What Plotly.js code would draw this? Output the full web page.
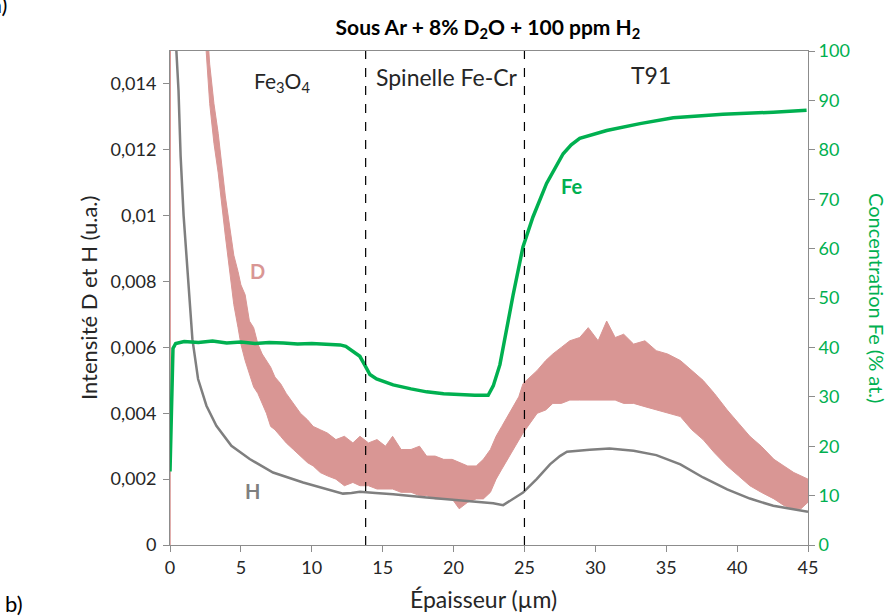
<!DOCTYPE html>
<html><head><meta charset="utf-8">
<script src="https://cdn.plot.ly/plotly-3.0.1.min.js"></script>
<style>html,body{margin:0;padding:0;background:#fff}#chart{width:892px;height:616px}</style>
</head><body><div id="chart"></div>
<script>
// D signal (noisy band): thickness position, upper and lower envelope
const dX =     [0, 0.06, 2.55, 2.8, 3.1, 3.4, 3.9, 4.2, 4.5, 4.8, 5.0, 5.3, 5.6, 5.9, 6.2, 6.5, 6.8, 7.1, 7.4, 7.8, 8.2, 8.7, 9.2, 9.7, 10.1, 10.6, 11.1, 11.7, 12.3, 12.9, 13.4, 14.0, 14.6, 15.2, 15.7, 16.3, 17.0, 17.6, 18.1, 18.7, 19.3, 19.9, 20.4, 21.0, 21.6, 22.1, 22.6, 23.0, 23.4, 23.8, 24.2, 24.6, 24.9, 25.4, 25.9, 26.5, 27.0, 27.6, 28.2, 28.9, 29.5, 30.2, 30.8, 31.4, 32.0, 32.7, 33.5, 34.3, 35.1, 36.0, 36.8, 37.6, 38.4, 39.3, 40.1, 40.9, 41.7, 42.6, 43.3, 44.0, 44.5, 45.0];
const dUpper = [0, 0.03, 0.0162, 0.0146, 0.0134, 0.0125, 0.0106, 0.0097, 0.0088, 0.0083, 0.0079, 0.0076, 0.0068, 0.0066, 0.0061, 0.0058, 0.0056, 0.0054, 0.0051, 0.0049, 0.0046, 0.0043, 0.0040, 0.0038, 0.0036, 0.0035, 0.0034, 0.0032, 0.0033, 0.0031, 0.0033, 0.0031, 0.0032, 0.0030, 0.0033, 0.0029, 0.0029, 0.0030, 0.0027, 0.0027, 0.0026, 0.0026, 0.0025, 0.0024, 0.0024, 0.0026, 0.0029, 0.0033, 0.0036, 0.0039, 0.0042, 0.0045, 0.0049, 0.0051, 0.0053, 0.0056, 0.0058, 0.0060, 0.0062, 0.0063, 0.0066, 0.0062, 0.0068, 0.0063, 0.0064, 0.0061, 0.0062, 0.0059, 0.0058, 0.0056, 0.0053, 0.0050, 0.0046, 0.0041, 0.0037, 0.0033, 0.0030, 0.0026, 0.0024, 0.0022, 0.0021, 0.0020];
const dLower = [0, 0.03, 0.0150, 0.0134, 0.0122, 0.0113, 0.0094, 0.0083, 0.0073, 0.0066, 0.0061, 0.0056, 0.0052, 0.0048, 0.0046, 0.0043, 0.0040, 0.0036, 0.0035, 0.0033, 0.0031, 0.0029, 0.0027, 0.0025, 0.0024, 0.0022, 0.0021, 0.0020, 0.0018, 0.0019, 0.0018, 0.0018, 0.0017, 0.0017, 0.0017, 0.0016, 0.0016, 0.0015, 0.0015, 0.0014, 0.0014, 0.0014, 0.0011, 0.0013, 0.0014, 0.0014, 0.0016, 0.0020, 0.0023, 0.0026, 0.0029, 0.0032, 0.0034, 0.0037, 0.0040, 0.0041, 0.0043, 0.0043, 0.0044, 0.0044, 0.0044, 0.0044, 0.0044, 0.0044, 0.0043, 0.0043, 0.0042, 0.0041, 0.0040, 0.0039, 0.0035, 0.0032, 0.0028, 0.0024, 0.0021, 0.0018, 0.0016, 0.0014, 0.0012, 0.0011, 0.0011, 0.0013];

// H signal
const hX = [0.3, 0.45, 0.6, 0.75, 0.96, 1.27, 1.58, 1.98, 2.57, 3.27, 4.33, 5.62, 7.27, 9.39, 11.04, 12.2, 12.8, 13.4, 14.5, 15.74, 18.1, 20.44, 22.8, 23.5, 24.2, 24.9, 25.86, 26.8, 27.5, 28.0, 29.6, 31.0, 32.7, 34.3, 36.0, 37.6, 39.3, 40.9, 42.55, 44.9, 45.0];
const hY = [0.020, 0.015, 0.0138, 0.0118, 0.0100, 0.0081, 0.00625, 0.00504, 0.00423, 0.00362, 0.00301, 0.00261, 0.0022, 0.0019, 0.00169, 0.00156, 0.00158, 0.00162, 0.00158, 0.00154, 0.00144, 0.00136, 0.00127, 0.00121, 0.00139, 0.00159, 0.0020, 0.00245, 0.0027, 0.00283, 0.00289, 0.00293, 0.00286, 0.00273, 0.00245, 0.00205, 0.00169, 0.00141, 0.00119, 0.00102, 0.00101];

// Fe concentration (% at.)
const feX = [0.0, 0.1, 0.21, 0.4, 1.0, 2.0, 3.0, 4.0, 5.0, 6.0, 7.0, 8.0, 9.0, 10.0, 11.0, 12.0, 12.4, 13.15, 13.39, 13.74, 14.1, 14.57, 15.2, 15.74, 17.0, 18.1, 19.3, 20.44, 21.5, 22.44, 22.8, 23.27, 23.74, 24.2, 24.9, 25.6, 26.56, 27.2, 27.73, 28.3, 28.9, 30.8, 33.15, 35.5, 39.0, 42.55, 44.9];
const feY = [14.9, 30, 39.8, 40.8, 41.2, 41.0, 41.3, 40.9, 41.1, 40.8, 41.0, 40.9, 40.7, 40.8, 40.6, 40.5, 40.2, 38.8, 38.2, 36.4, 34.5, 33.6, 33.0, 32.4, 31.6, 31.0, 30.6, 30.4, 30.3, 30.3, 32.2, 36.5, 44.0, 50.6, 60.4, 66.4, 73.2, 76.5, 79.2, 81.0, 82.3, 83.9, 85.3, 86.5, 87.2, 87.6, 88.0];

const boundaries = [13.8, 25];

const pink = '#D99694', gray = '#7F7F7F', green = '#00B050', txt = '#262626', axc = '#8C8C8C';
const FONT = 'Lato, "Open Sans", sans-serif';

const traces = [
  {x: dX, y: dLower, type: 'scatter', mode: 'lines', line: {color: pink, width: 1}, hoverinfo: 'skip', showlegend: false},
  {x: dX, y: dUpper, type: 'scatter', mode: 'lines', fill: 'tonexty', fillcolor: pink, line: {color: pink, width: 1}, name: 'D', showlegend: false},
  {x: hX, y: hY, type: 'scatter', mode: 'lines', line: {color: gray, width: 2.5}, name: 'H', showlegend: false},
  {x: feX, y: feY, type: 'scatter', mode: 'lines', yaxis: 'y2', line: {color: green, width: 3.5}, name: 'Fe', showlegend: false}
];

const shapes = boundaries.map(b => ({type: 'line', xref: 'x', yref: 'paper', x0: b, x1: b, y0: 0, y1: 1, line: {color: '#000', width: 1.2, dash: 'dash'}}));

const ann = (o) => Object.assign({showarrow: false, xanchor: 'center', yanchor: 'middle'}, o);
const annotations = [
  ann({text: 'Fe<sub>3</sub>O<sub>4</sub>', xref: 'x', yref: 'paper', x: 7.9, y: 0.938, font: {size: 21, color: txt, family: FONT}}),
  ann({text: 'Spinelle Fe-Cr', xref: 'x', yref: 'paper', x: 19.5, y: 0.947, font: {size: 23, color: txt, family: FONT}}),
  ann({text: 'T91', xref: 'x', yref: 'paper', x: 33.9, y: 0.951, font: {size: 23, color: txt, family: FONT}}),
  ann({text: '<b>D</b>', xref: 'x', yref: 'y', x: 6.2, y: 0.00832, font: {size: 20, color: pink, family: FONT}}),
  ann({text: '<b>H</b>', xref: 'x', yref: 'y', x: 5.85, y: 0.00163, font: {size: 20, color: gray, family: FONT}}),
  ann({text: '<b>Fe</b>', xref: 'x', yref: 'y2', x: 28.3, y: 72.6, font: {size: 20, color: green, family: FONT}}),
  ann({text: 'Intensité D et H (u.a.)', xref: 'paper', yref: 'paper', x: -0.1285, y: 0.5, textangle: -90, font: {size: 22, color: txt, family: FONT}}),
  ann({text: 'Concentration Fe (% at.)', xref: 'paper', yref: 'paper', x: 1.108, y: 0.5, textangle: 90, font: {size: 20, color: green, family: FONT}}),
  ann({text: 'Épaisseur (µm)', xref: 'paper', yref: 'paper', x: 0.492, y: -0.11, font: {size: 23, color: txt, family: FONT}}),
  ann({text: 'b)', xref: 'paper', yref: 'paper', x: -0.262, y: -0.118, xanchor: 'left', font: {size: 22, color: '#000', family: FONT}}),
  ann({text: 'a)', xref: 'paper', yref: 'paper', x: -0.253, y: 1.095, xanchor: 'right', font: {size: 22, color: '#000', family: FONT}})
];

const layout = {
  width: 892, height: 616,
  margin: {l: 170, r: 84, t: 51, b: 70.5},
  paper_bgcolor: '#fff', plot_bgcolor: '#fff',
  separators: ',.',
  font: {family: FONT, size: 18, color: txt},
  title: {text: '<b>Sous Ar + 8% D<sub>2</sub>O + 100 ppm H<sub>2</sub></b>', x: 0.547, xanchor: 'center', y: 0.955, yanchor: 'middle', font: {size: 21, color: '#000', family: FONT}},
  xaxis: {range: [0, 45], dtick: 5, tick0: 0, showgrid: false, zeroline: false, showline: true, mirror: true, linecolor: axc, linewidth: 1, ticks: 'outside', ticklen: 6, tickcolor: axc, tickfont: {size: 18, color: txt}},
  yaxis: {range: [0, 0.015], dtick: 0.002, tick0: 0, showgrid: false, zeroline: false, showline: true, linecolor: axc, linewidth: 1, ticks: 'outside', ticklen: 6, ticklabelstandoff: 3, tickcolor: axc, tickfont: {size: 18, color: txt}},
  yaxis2: {range: [0, 100], dtick: 10, tick0: 0, overlaying: 'y', side: 'right', showgrid: false, zeroline: false, showline: true, linecolor: axc, linewidth: 1, ticks: 'outside', ticklen: 6, tickcolor: axc, tickfont: {size: 18, color: green}},
  shapes: shapes,
  annotations: annotations,
  showlegend: false
};

Plotly.newPlot('chart', traces, layout, {staticPlot: true, displayModeBar: false});
</script>
</body></html>
